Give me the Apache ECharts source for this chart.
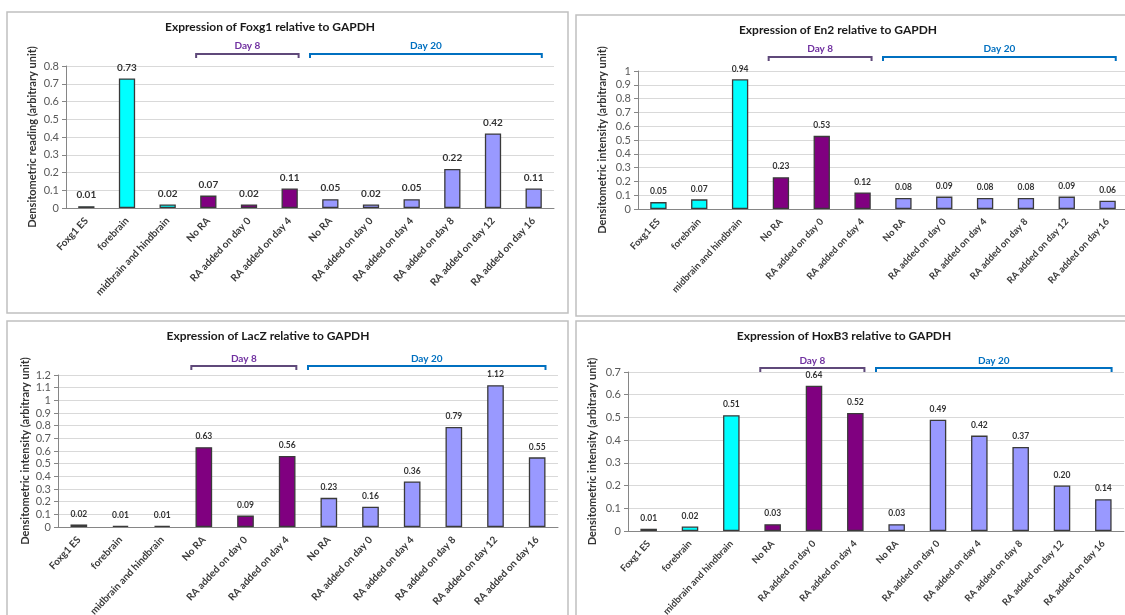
<!DOCTYPE html>
<html>
<head>
<meta charset="utf-8">
<script src="https://cdn.jsdelivr.net/npm/echarts@6/dist/echarts.min.js"></script>
<style>
  html, body { margin: 0; padding: 0; background: #fff; }
  #chart { width: 1125px; height: 615px; }
</style>
</head>
<body>
<div id="chart"></div>
<script>
// Sample conditions shared by all four panels
var categories = ['Foxg1 ES', 'forebrain', 'midbrain and hindbrain',
  'No RA', 'RA added on day 0', 'RA added on day 4',
  'No RA', 'RA added on day 0', 'RA added on day 4', 'RA added on day 8', 'RA added on day 12', 'RA added on day 16'];

// Group of each condition (sets bar colour)
var groups = ['ref', 'ref', 'ref', 'day8', 'day8', 'day8', 'day20', 'day20', 'day20', 'day20', 'day20', 'day20'];

// Densitometric values relative to GAPDH
var foxg1 = [0.01, 0.73, 0.02, 0.07, 0.02, 0.11, 0.05, 0.02, 0.05, 0.22, 0.42, 0.11];
var en2   = [0.05, 0.07, 0.94, 0.23, 0.53, 0.12, 0.08, 0.09, 0.08, 0.08, 0.09, 0.06];
var lacz  = [0.02, 0.01, 0.01, 0.63, 0.09, 0.56, 0.23, 0.16, 0.36, 0.79, 1.12, 0.55];
var hoxb3 = [0.01, 0.02, 0.51, 0.03, 0.64, 0.52, 0.03, 0.49, 0.42, 0.37, 0.20, 0.14];

// Panel titles and y-axis titles
var titles = ['Expression of Foxg1 relative to GAPDH', 'Expression of En2 relative to GAPDH',
  'Expression of LacZ relative to GAPDH', 'Expression of HoxB3 relative to GAPDH'];
var yTitles = ['Densitometric reading (arbitrary unit)', 'Densitometric intensity (arbitrary unit)',
  'Densitometric intensity (arbitrary unit)', 'Densitometric intensity (arbitrary unit)'];
var yMax = [0.8, 1, 1.2, 0.7];

// Time-point brackets above the bars (first and last category index)
var dayBrackets = [
  { label: 'Day 8', from: 3, to: 5, text: '#7030A0', line: '#5F497A', padL: 0.3, padR: 0.22 },
  { label: 'Day 20', from: 6, to: 11, text: '#0070C0', line: '#0070C0', padL: 0.5, padR: 0.2 }
];

var seriesData = [foxg1, en2, lacz, hoxb3];

var groupColor = { ref: '#00FFFF', day8: '#800080', day20: '#9999FF' };
var FONT = 'Lato, "Liberation Sans", sans-serif';

// Layout of the four panels
var panels = [
  { box: [7, 12, 561, 301], grid: { left: 66, top: 66, width: 488, height: 142 }, title: [270, 27], day: [46, 54], nameGap: 28, lab: 10, cat: 10 },
  { box: [576, 15, 560, 301], grid: { left: 638, top: 71, width: 490, height: 138 }, title: [838, 30], day: [49, 57], nameGap: 30, lab: 8.5, cat: 9.5 },
  { box: [7, 321, 561, 300], grid: { left: 58, top: 375, width: 500, height: 152 }, title: [268, 336], day: [359, 366], nameGap: 27, lab: 8.5, cat: 10 },
  { box: [576, 321, 560, 300], grid: { left: 628, top: 372, width: 496, height: 159 }, title: [844, 336], day: [361, 368], nameGap: 30, lab: 8.5, cat: 9.5 }
];

var chart = echarts.init(document.getElementById('chart'), null, { renderer: 'canvas' });

var grid = [], xAxis = [], yAxis = [], series = [];
panels.forEach(function (p, i) {
  grid.push(Object.assign({ containLabel: false, outerBoundsMode: 'none' }, p.grid));
  xAxis.push({
    type: 'category', gridIndex: i, data: categories,
    axisLine: { lineStyle: { color: '#868686', width: 1 } },
    axisTick: { show: false },
    axisLabel: {
      interval: 0, rotate: 47, fontSize: p.cat, fontWeight: 'bold', color: '#3a3a3a',
      fontFamily: FONT, margin: 11
    }
  });
  yAxis.push({
    type: 'value', gridIndex: i, min: 0, max: yMax[i], interval: 0.1,
    name: yTitles[i], nameLocation: 'middle', nameGap: p.nameGap,
    nameTextStyle: { fontSize: 11, fontWeight: 'bold', color: '#333', fontFamily: FONT },
    axisLine: { show: true, lineStyle: { color: '#868686' } },
    axisTick: { show: true, length: 4, lineStyle: { color: '#868686' } },
    axisLabel: {
      fontSize: 11, color: '#595959', fontFamily: FONT, margin: 7,
      formatter: function (v) { return String(+v.toFixed(1)); }
    },
    splitLine: { lineStyle: { color: '#d9d9d9', width: 1 } }
  });
  series.push({
    type: 'bar', xAxisIndex: i, yAxisIndex: i, barWidth: '40%',
    data: seriesData[i].map(function (v, k) {
      return { value: v, itemStyle: { color: groupColor[groups[k]] } };
    }),
    itemStyle: { borderColor: '#3a3a3a', borderWidth: 1.3 },
    label: {
      show: true, position: 'top', distance: 6, fontSize: p.lab, fontWeight: 'bold', color: '#333',
      fontFamily: FONT, formatter: function (d) { return d.value.toFixed(2); }
    },
    animation: false
  });
});

chart.setOption({ animation: false, grid: grid, xAxis: xAxis, yAxis: yAxis, series: series });

// Panel frames, titles and day brackets placed from the axis scales
var graphics = [];
panels.forEach(function (p, i) {
  graphics.push({
    type: 'rect', shape: { x: p.box[0], y: p.box[1], width: p.box[2], height: p.box[3] },
    style: { fill: null, stroke: '#c0c0c0', lineWidth: 1.5 }, silent: true, z: -1
  });
  graphics.push({
    type: 'text', x: p.title[0], y: p.title[1],
    style: { text: titles[i], align: 'center', verticalAlign: 'middle', font: 'bold 12px ' + FONT, fill: '#1a1a1a' }
  });
  var step = chart.convertToPixel({ xAxisIndex: i }, 1) - chart.convertToPixel({ xAxisIndex: i }, 0);
  dayBrackets.forEach(function (b) {
    var x0 = chart.convertToPixel({ xAxisIndex: i }, b.from) - b.padL * step;
    var x1 = chart.convertToPixel({ xAxisIndex: i }, b.to) + b.padR * step;
    var y = p.day[1];
    graphics.push({
      type: 'polyline', shape: { points: [[x0, y + 4], [x0, y], [x1, y], [x1, y + 4]] },
      style: { stroke: b.line, lineWidth: 2, fill: null }, silent: true
    });
    graphics.push({
      type: 'text', x: (x0 + x1) / 2, y: p.day[0],
      style: { text: b.label, align: 'center', verticalAlign: 'middle', font: 'bold 10px ' + FONT, fill: b.text }
    });
  });
});
chart.setOption({ graphic: graphics });
</script>
</body>
</html>
